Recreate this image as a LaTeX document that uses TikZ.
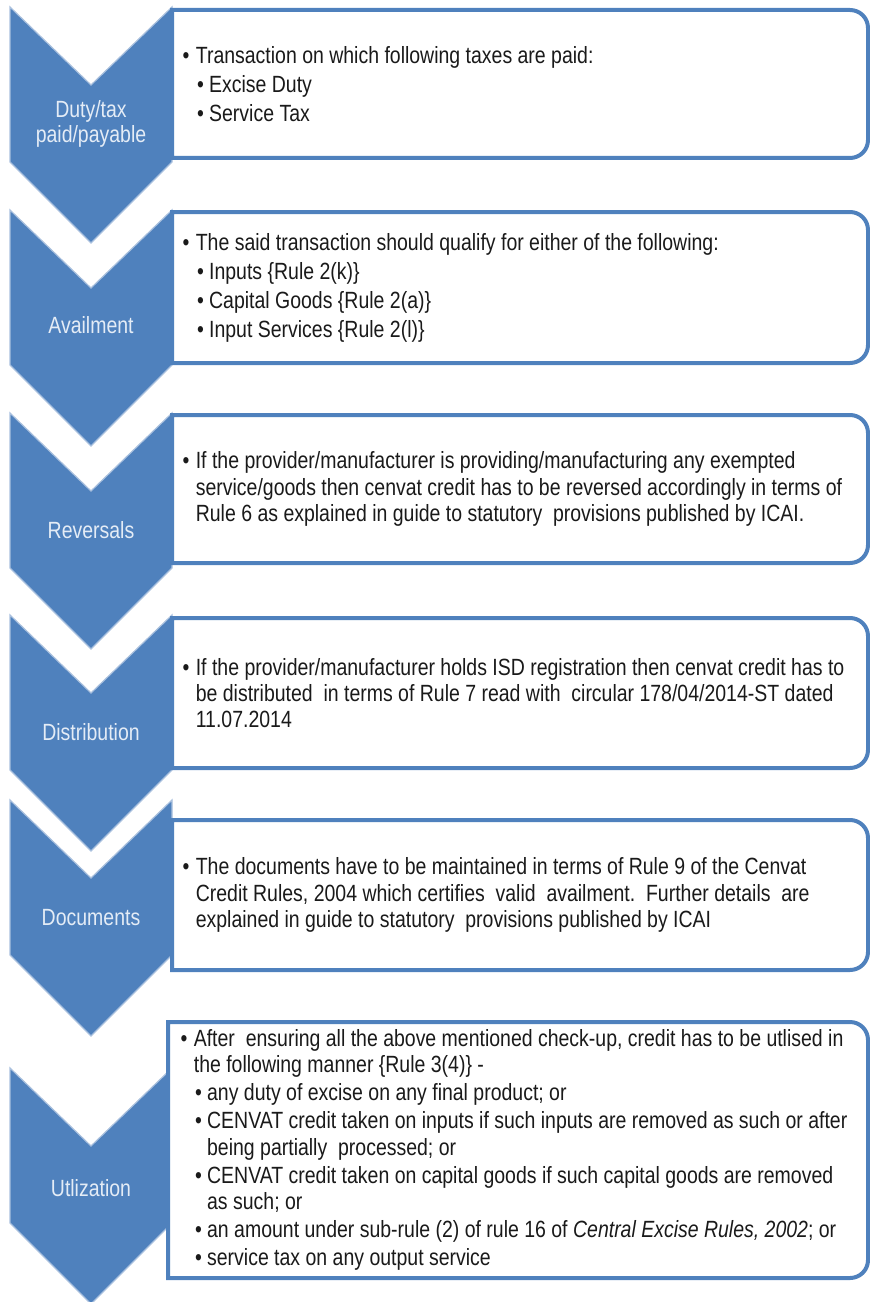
\documentclass[tikz,border=0pt]{standalone}
\usepackage{fontspec}
\setmainfont[FakeStretch=0.83]{Liberation Sans}

\definecolor{chevblue}{HTML}{4F81BD}
\definecolor{chevedge}{HTML}{A9C0DE}
\definecolor{labtext}{HTML}{E4ECF6}
\definecolor{boxline}{HTML}{4F81BD}
\definecolor{bodytext}{HTML}{1A1A1A}

\newcommand{\bulA}{\makebox[10pt][l]{•}}
\newcommand{\bulB}{\hspace*{11pt}\makebox[9pt][l]{•}}
\newcommand{\contA}{\hspace*{10pt}}
\newcommand{\contB}{\hspace*{20pt}}

\tikzset{every picture/.style={line width=0.75pt}}
\tikzset{
  chevron/.style={fill=chevblue, draw=chevedge, line width=0.9pt},
  infobox/.style={draw=boxline, fill=white, line width=3pt},
  steplabel/.style={text=labtext, align=center, inner sep=0.75pt, font=\fontsize{17.6pt}{18.75pt}\selectfont},
  boxtext/.style={text=bodytext, align=left, anchor=west, inner sep=0.75pt, font=\fontsize{17.6pt}{21.75pt}\selectfont},
  boxtextB/.style={boxtext, font=\fontsize{17.6pt}{19.6pt}\selectfont},
}

\begin{document}
\begin{tikzpicture}[x=0.75pt,y=0.75pt,yscale=-1,xscale=1]
\useasboundingbox (0,0) rectangle (870,1302);

%Shape: Chevron [duty]
\draw [chevron] (10,7) -- (91,85) -- (172,7) -- (172,162) -- (91,243) -- (10,162) -- cycle ;
%Shape: Chevron [availment]
\draw [chevron] (10,210) -- (91,288) -- (172,210) -- (172,365) -- (91,446) -- (10,365) -- cycle ;
%Shape: Chevron [reversals]
\draw [chevron] (10,413) -- (91,491) -- (172,413) -- (172,568) -- (91,649) -- (10,568) -- cycle ;
%Shape: Chevron [distribution]
\draw [chevron] (10,615) -- (91,693) -- (172,615) -- (172,770) -- (91,851) -- (10,770) -- cycle ;
%Shape: Chevron [documents]
\draw [chevron] (10,800) -- (91,878) -- (172,800) -- (172,955) -- (91,1036) -- (10,955) -- cycle ;
%Shape: Chevron [utilization]
\draw [chevron] (10,1068) -- (91,1146) -- (172,1068) -- (172,1223) -- (91,1304) -- (10,1223) -- cycle ;

%Rounded Rect [duty box]
\draw [infobox] (172,10) -- (850,10) .. controls (860,10) and (868,18) .. (868,28) -- (868,140) .. controls (868,150) and (860,158) .. (850,158) -- (172,158) -- cycle ;
%Rounded Rect [availment box]
\draw [infobox] (172,212) -- (850,212) .. controls (860,212) and (868,220) .. (868,230) -- (868,345) .. controls (868,355) and (860,363) .. (850,363) -- (172,363) -- cycle ;
%Rounded Rect [reversals box]
\draw [infobox] (172,415) -- (850,415) .. controls (860,415) and (868,423) .. (868,433) -- (868,545) .. controls (868,555) and (860,563) .. (850,563) -- (172,563) -- cycle ;
%Rounded Rect [distribution box]
\draw [infobox] (172,618) -- (850,618) .. controls (860,618) and (868,626) .. (868,636) -- (868,750) .. controls (868,760) and (860,768) .. (850,768) -- (172,768) -- cycle ;
%Rounded Rect [documents box]
\draw [infobox] (172,820) -- (850,820) .. controls (860,820) and (868,828) .. (868,838) -- (868,952) .. controls (868,962) and (860,970) .. (850,970) -- (172,970) -- cycle ;
%Rounded Rect [utilization box]
\draw [infobox] (168,1022) -- (850,1022) .. controls (860,1022) and (868,1030) .. (868,1040) -- (868,1260) .. controls (868,1270) and (860,1278) .. (850,1278) -- (168,1278) -- cycle ;

% Text Node
\node [steplabel] (labDuty) at (91,124) {Duty/tax\\paid/payable};
% Text Node
\node [steplabel] (labAvail) at (91,325) {Availment};
% Text Node
\node [steplabel] (labRev) at (91,530) {Reversals};
% Text Node
\node [steplabel] (labDist) at (91,732) {Distribution};
% Text Node
\node [steplabel] (labDocs) at (91,918) {Documents};
% Text Node
\node [steplabel] (labUtil) at (91,1188) {Utlization};

% Text Node
\node [boxtext] (txtDuty) at (181,84) {\bulA Transaction on which following taxes are paid:\\
\bulB Excise Duty\\
\bulB Service Tax};
% Text Node
\node [boxtext] (txtAvail) at (181,288) {\bulA The said transaction should qualify for either of the following:\\
\bulB Inputs \{Rule 2(k)\}\\
\bulB Capital Goods \{Rule 2(a)\}\\
\bulB Input Services \{Rule 2(l)\}};
% Text Node
\node [boxtextB] (txtRev) at (181,489) {\bulA If the provider/manufacturer is providing/manufacturing any exempted\\
\contA service/goods then cenvat credit has to be reversed accordingly in terms of\\
\contA Rule 6 as explained in guide to statutory\ \ provisions published by ICAI.};
% Text Node
\node [boxtextB] (txtDist) at (181,693) {\bulA If the provider/manufacturer holds ISD\ registration then cenvat credit has to\\
\contA be distributed\ \ in terms of Rule 7 read with\ \ circular 178/04/2014-ST dated\\
\contA 11.07.2014};
% Text Node
\node [boxtextB] (txtDocs) at (181,895) {\bulA The documents have to be maintained in terms of Rule 9 of the Cenvat\\
\contA Credit Rules, 2004 which certifies\ \ valid\ \ availment.\ \ Further details\ \ are\\
\contA explained in guide to statutory\ \ provisions published by ICAI};
% Text Node
\node [boxtextB] (txtUtil) at (179,1150) {\bulA After\ \ ensuring all the above mentioned check-up, credit has to be utlised in\\
\contA the following manner \{Rule 3(4)\} -\\[1.5pt]
\bulB any duty of excise on any final product; or\\[1.5pt]
\bulB CENVAT credit taken on inputs if such inputs are removed as such or after\\
\contB being partially\ \ processed; or\\[1.5pt]
\bulB CENVAT credit taken on capital goods if such capital goods are removed\\
\contB as such; or\\[1.5pt]
\bulB an amount under sub-rule (2) of rule 16 of \textit{Central Excise Rules, 2002}; or\\[1.5pt]
\bulB service tax on any output service};

\end{tikzpicture}
\end{document}
